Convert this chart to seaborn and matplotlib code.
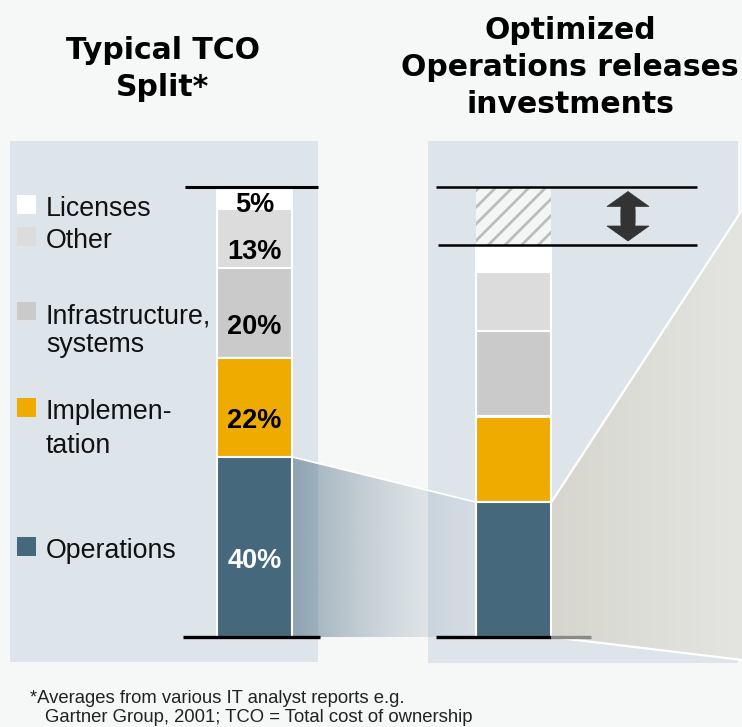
import matplotlib
matplotlib.use('Agg')

import numpy as np
import seaborn as sns
import matplotlib.pyplot as plt
from matplotlib.patches import Polygon, Rectangle

# data (shares of total cost, %)
bar_names = ["Typical", "Optimized"]
categories = ["Licenses", "Other", "Infrastructure,\nsystems", "Implemen-\ntation", "Operations"]
typical_split = [5, 13, 20, 22, 40]
optimized_split = [6, 13, 19, 19, 30]
released_share = 13
seg_colors = ["#ffffff", "#dcdcdc", "#cacaca", "#f0ab00", "#45687d"]
label_colors = ["black", "black", "black", "black", "white"]

left_title = ["Typical TCO", "Split*"]
right_title = ["Optimized", "Operations releases", "investments"]
footnote = ["*Averages from various IT analyst reports e.g.",
            "Gartner Group, 2001; TCO = Total cost of ownership"]

# layout (pixels of the 742x727 canvas)
W, H = 742, 727
BG = "#f6f7f7"
PANEL = "#dde4ea"
BAR_W = 0.293
PX_X = 259.0      # px per x unit (distance between bar centres)
X0_PX = 254.5     # px of first bar centre
PX_Y = 4.5        # px per percentage point
Y0_PX = 637.0     # px of the 0 % baseline


def fx(px):
    return px / W


def fy(py):
    return 1 - py / H


def dx(px):
    return (px - X0_PX) / PX_X


def gradient_fill(ax, pts, rgb_l, rgb_r, a_l, a_r, power=1.0, zorder=1):
    poly = Polygon(pts, closed=True, facecolor="none", edgecolor="none")
    ax.add_patch(poly)
    xs = [p[0] for p in pts]
    ys = [p[1] for p in pts]
    t = np.linspace(0, 1, 300)
    arr = np.zeros((2, 300, 4))
    for k in range(3):
        arr[:, :, k] = (rgb_l[k] + (rgb_r[k] - rgb_l[k]) * t) / 255.0
    arr[:, :, 3] = a_r + (a_l - a_r) * (1 - t) ** power
    img = ax.imshow(arr, extent=[min(xs), max(xs), min(ys), max(ys)],
                    aspect="auto", origin="lower", zorder=zorder,
                    interpolation="bilinear")
    img.set_clip_path(poly)


sns.set_theme(style="white")
plt.rcParams["font.family"] = ["Liberation Sans", "DejaVu Sans"]

fig = plt.figure(figsize=(W / 100, H / 100), dpi=100, facecolor=BG)
ax = fig.add_axes([0, 0, 1, 1])
ax.set_axis_off()

x_lo, x_hi = dx(0), dx(W)
y_lo, y_hi = (Y0_PX - H) / PX_Y, Y0_PX / PX_Y

# background panels
ax.add_patch(Rectangle((fx(10), fy(662)), fx(308), fy(141) - fy(662),
                       transform=ax.transAxes, facecolor=PANEL, edgecolor="none", zorder=0))
ax.add_patch(Rectangle((fx(428), fy(663)), fx(310), fy(141) - fy(663),
                       transform=ax.transAxes, facecolor=PANEL, edgecolor="none", zorder=0))

t_vals = np.array(typical_split)
o_vals = np.array(optimized_split)
t_bot = np.array([t_vals[i + 1:].sum() for i in range(len(t_vals))])
o_bot = np.array([o_vals[i + 1:].sum() for i in range(len(o_vals))])
t_total = t_vals.sum()
o_total = o_vals.sum()

# stacked bars
for i, cat in enumerate(categories):
    sns.barplot(x=bar_names, y=[t_vals[i], o_vals[i]], bottom=[t_bot[i], o_bot[i]],
                order=bar_names, color=seg_colors[i], saturation=1, width=BAR_W,
                errorbar=None, edgecolor="white", linewidth=1.5, ax=ax, zorder=3)

# released part on top of the optimized bar
plt.rcParams["hatch.linewidth"] = 2.0
sns.barplot(x=[bar_names[1]], y=[released_share], bottom=[o_total], order=bar_names,
            color="#f4f5f5", saturation=1, width=BAR_W, errorbar=None,
            hatch="//", edgecolor="#bdbdbd", linewidth=0, ax=ax, zorder=3)

# connector between the Operations segments
ops_t = t_vals[-1]
ops_o = o_vals[-1]
xl, xr = 0 + BAR_W / 2, 1 - BAR_W / 2
conn = [(xl, ops_t), (xr, ops_o), (xr, 0), (xl, 0)]
gradient_fill(ax, conn, (92, 122, 142), (92, 122, 142), 0.61, 0.08, power=1.5, zorder=1)
ax.plot([xl, xr], [ops_t, ops_o], color="white", lw=1.3, zorder=2)

# zoom fan to the right
xf = 1 + BAR_W / 2
fan = [(xf, ops_o), (x_hi, 94.9), (x_hi, -5.1), (xf, 0)]
gradient_fill(ax, fan, (214, 214, 206), (228, 229, 225), 1.0, 1.0, zorder=1)
ax.plot([xf, x_hi], [ops_o, 94.9], color="white", lw=1.6, zorder=2)
ax.plot([xf, x_hi], [0, -5.1], color="white", lw=1.6, zorder=2)

# reference lines
ax.plot([dx(185), dx(318)], [t_total, t_total], color="black", lw=2.2, zorder=4,
        solid_capstyle="butt")
ax.plot([dx(183), dx(320)], [0, 0], color="black", lw=2.4, zorder=4, solid_capstyle="butt")
ax.plot([dx(436), dx(697)], [o_total + released_share] * 2, color="black", lw=1.8,
        zorder=4, solid_capstyle="butt")
ax.plot([dx(438), dx(697)], [o_total] * 2, color="black", lw=1.8, zorder=4,
        solid_capstyle="butt")
ax.plot([dx(436), xf], [0, 0], color="black", lw=2.4, zorder=4, solid_capstyle="butt")
ax.plot([xf, dx(591)], [0, 0], color="#8a8a84", lw=2.4, zorder=4, solid_capstyle="butt")

# double arrow for released investments
ax_x = dx(628)
mid = o_total + released_share / 2
half = released_share / 2 - 1.0
for sgn in (1, -1):
    start = mid - sgn * 1.5
    ax.arrow(ax_x, start, 0, sgn * (half + 1.5), width=14 / PX_X, head_width=42 / PX_X,
             head_length=15 / PX_Y, length_includes_head=True,
             facecolor="#333333", edgecolor="#333333", linewidth=0.5, zorder=5)

# percentage labels in the typical bar
for i in range(len(categories)):
    off = -10 if i == 0 else -14.8
    ax.annotate(f"{t_vals[i]}%", (0, t_bot[i] + t_vals[i] / 2), xytext=(0, off),
                textcoords="offset points", ha="center", va="baseline",
                fontsize=19.5, fontweight="bold", color=label_colors[i], zorder=6)

# legend
legend_rows = [[216], [248], [323, 352], [419, 453], [558]]
for i, cat in enumerate(categories):
    base = legend_rows[i][0]
    fig.patches.append(Rectangle((fx(17), fy(base - 2.5)), fx(18.5), fy(base - 21) - fy(base - 2.5),
                                 transform=fig.transFigure, facecolor=seg_colors[i],
                                 edgecolor="none", zorder=5))
    for line, b in zip(cat.split("\n"), legend_rows[i]):
        fig.text(fx(46), fy(b), line, ha="left", va="baseline", fontsize=19.3, color="#111111")

# titles
for line, b in zip(left_title, [59, 96]):
    fig.text(fx(163), fy(b), line, ha="center", va="baseline", fontsize=21.5,
             fontweight="bold", family="DejaVu Sans", color="black")
for line, b in zip(right_title, [39, 76, 113]):
    fig.text(fx(570), fy(b), line, ha="center", va="baseline", fontsize=21.5,
             fontweight="bold", family="DejaVu Sans", color="black")

# footnote
fig.text(fx(30), fy(703), footnote[0], ha="left", va="baseline", fontsize=13.3, color="#222222")
fig.text(fx(45), fy(722), footnote[1], ha="left", va="baseline", fontsize=13.3, color="#222222")

ax.set_xlim(x_lo, x_hi)
ax.set_ylim(y_lo, y_hi)

fig.savefig("out.png", dpi=100, facecolor=BG)
